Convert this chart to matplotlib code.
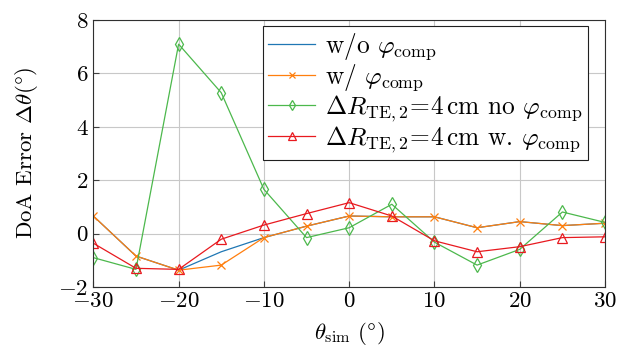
import matplotlib
matplotlib.use('Agg')
import matplotlib.pyplot as plt

plt.rcParams['font.family'] = 'serif'
plt.rcParams['font.serif'] = ['cmr10']
plt.rcParams['mathtext.fontset'] = 'cm'
plt.rcParams['axes.formatter.use_mathtext'] = True
plt.rcParams['font.size'] = 16.5

# angles and DoA errors
theta = [-30, -25, -20, -15, -10, -5, 0, 5, 10, 15, 20, 25, 30]
err_wo = [0.66, -0.84, -1.37, -0.68, -0.15, 0.28, 0.66, 0.63, 0.63, 0.22, 0.45, 0.30, 0.39]
err_w = [0.66, -0.84, -1.37, -1.18, -0.15, 0.28, 0.66, 0.63, 0.63, 0.22, 0.45, 0.30, 0.39]
err_dr_no = [-0.90, -1.34, 7.10, 5.28, 1.66, -0.15, 0.22, 1.10, -0.32, -1.18, -0.59, 0.81, 0.42]
err_dr_w = [-0.36, -1.30, -1.34, -0.21, 0.32, 0.75, 1.16, 0.66, -0.27, -0.68, -0.49, -0.15, -0.12]

fig, ax = plt.subplots(figsize=(6.18, 3.53), dpi=100)
fig.subplots_adjust(left=0.151, right=0.979, top=0.943, bottom=0.187)

ax.plot(theta, err_wo, color='#1f77b4', lw=0.9, label=r'w/o $\varphi_\mathrm{comp}$')
ax.plot(theta, err_w, color='#ff7f0e', lw=0.9, marker='x', ms=6, mew=0.9,
        label=r'w/ $\varphi_\mathrm{comp}$')
ax.plot(theta, err_dr_no, color='#4cb84c', lw=0.9, marker='d', ms=7, mew=0.9, mfc='none',
        label=r'$\Delta R_\mathrm{TE,2}\!=\!4\,\mathrm{cm}$ no $\varphi_\mathrm{comp}$')
ax.plot(theta, err_dr_w, color='#e8191f', lw=0.9, marker='^', ms=7, mew=0.9, mfc='none',
        label=r'$\Delta R_\mathrm{TE,2}\!=\!4\,\mathrm{cm}$ w. $\varphi_\mathrm{comp}$')

ax.set_xlim(-30, 30)
ax.set_ylim(-2, 8)
ax.set_xticks(range(-30, 31, 10))
ax.set_yticks(range(-2, 9, 2))
ax.grid(True, color='#c8c8c8', lw=0.8)
ax.set_axisbelow(True)
ax.tick_params(direction='in', length=4, color='#404040', top=False, right=False)
for s in ax.spines.values():
    s.set_color('#303030')

ax.set_xlabel(r'$\theta_\mathrm{sim}$ $(\degree)$', labelpad=6)
ax.set_ylabel(r'DoA Error $\Delta\theta(\degree)$', labelpad=13)

leg = ax.legend(loc='upper left', bbox_to_anchor=(0.332, 0.977), borderaxespad=0,
                fancybox=False, framealpha=1, edgecolor='#202020', fontsize=18.3,
                handlelength=1.85, borderpad=0.2, labelspacing=0.0, handletextpad=0.4,
                markerscale=0.8)
leg.get_frame().set_linewidth(0.8)

fig.savefig('out.png', dpi=100)
